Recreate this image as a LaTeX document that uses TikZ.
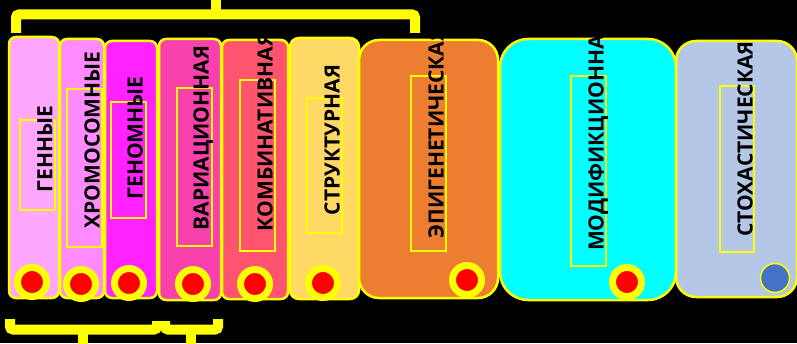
\documentclass[tikz,border=0pt]{standalone}
\usepackage{fontspec}
\setmainfont{Open Sans}
\definecolor{c1}{HTML}{FFA6FF}
\definecolor{c2}{HTML}{FF8BFF}
\definecolor{c3}{HTML}{FF21FF}
\definecolor{c4}{HTML}{F941AE}
\definecolor{c5}{HTML}{FF5470}
\definecolor{c6}{HTML}{FFD966}
\definecolor{c7}{HTML}{ED7D31}
\definecolor{c8}{HTML}{00FFFF}
\definecolor{c9}{HTML}{B4C7E7}
\definecolor{ylw}{HTML}{FFFF00}
\definecolor{rd}{HTML}{FF0000}
\definecolor{bl}{HTML}{4472C4}
\begin{document}
\begin{tikzpicture}[x=1pt,y=1pt,
  box/.style={draw=ylw, line width=2.5pt, anchor=south west, inner sep=0pt, outer sep=0pt},
  lbl/.style={rotate=90, font=\bfseries\fontsize{21}{21}\selectfont, text=black, inner sep=0pt, text depth=0pt},
  txtframe/.style={draw=ylw, line width=1.3pt, anchor=south west, inner sep=0pt, outer sep=0pt},
  dot/.style={circle, fill=rd, draw=ylw, line width=7pt, minimum size=29pt, inner sep=0pt},
  bluedot/.style={circle, fill=bl, draw=ylw, line width=1.5pt, minimum size=29pt, inner sep=0pt},
  brace/.style={draw=ylw, line width=10pt, rounded corners=3pt}
]
\fill[black] (0,0) rectangle (797,343);
\useasboundingbox (0,0) rectangle (797,343);
\clip (0,0) rectangle (797,343);
% boxes
\node[box, rounded corners=7pt, fill=c1, minimum width=50pt, minimum height=261pt] (b1) at (9,45) {};
\node[box, rounded corners=7pt, fill=c2, minimum width=44pt, minimum height=259pt] (b2) at (60,45) {};
\node[box, rounded corners=7pt, fill=c3, minimum width=52pt, minimum height=257pt] (b3) at (105,45) {};
\node[box, rounded corners=7pt, fill=c4, minimum width=62pt, minimum height=261pt] (b4) at (159,43) {};
\node[box, rounded corners=7pt, fill=c5, minimum width=66pt, minimum height=259pt] (b5) at (222,44) {};
\node[box, rounded corners=9pt, fill=c6, minimum width=69pt, minimum height=261pt] (b6) at (290,44) {};
\node[box, rounded corners=20pt, fill=c7, minimum width=139pt, minimum height=258pt] (b7) at (359,45) {};
\node[box, rounded corners=28pt, fill=c8, minimum width=176pt, minimum height=261pt] (b8) at (500,43) {};
\node[box, rounded corners=20pt, fill=c9, minimum width=121pt, minimum height=256pt] (b9) at (676,46) {};
% text frames
\node[txtframe, minimum width=35pt, minimum height=90pt] (f1) at (20,133) {};
\node[txtframe, minimum width=35pt, minimum height=158pt] (f2) at (67,96) {};
\node[txtframe, minimum width=35pt, minimum height=116pt] (f3) at (111,125) {};
\node[txtframe, minimum width=35pt, minimum height=158pt] (f4) at (177,97) {};
\node[txtframe, minimum width=35pt, minimum height=171pt] (f5) at (240,92) {};
\node[txtframe, minimum width=35pt, minimum height=135pt] (f6) at (307,110) {};
\node[txtframe, minimum width=35pt, minimum height=175pt] (f7) at (411,92) {};
\node[txtframe, minimum width=35pt, minimum height=190pt] (f8) at (571,77) {};
\node[txtframe, minimum width=34pt, minimum height=166pt] (f9) at (720,91) {};
% labels
\node[lbl] (t1) at (45,194) {ГЕННЫЕ};
\node[lbl] (t2) at (92,203) {ХРОМОСОМНЫЕ};
\node[lbl] (t3) at (135,205) {ГЕНОМНЫЕ};
\node[lbl] (t4) at (201,205) {ВАРИАЦИОННАЯ};
\node[lbl] (t5) at (265,211) {КОМБИНАТИВНАЯ};
\node[lbl] (t6) at (332,203) {СТРУКТУРНАЯ};
\node[lbl] (t7) at (436,210) {ЭПИГЕНЕТИЧЕСКАЯ};
\node[lbl] (t8) at (596,200) {МОДИФИКЦИОННА};
\node[lbl] (t9) at (745,204) {СТОХАСТИЧЕСКАЯ};
% dots
\node[dot] (d1) at (32,61) {};
\node[dot] (d2) at (81,59) {};
\node[dot] (d3) at (129,60) {};
\node[dot] (d4) at (193,59) {};
\node[dot] (d5) at (255,59) {};
\node[dot] (d6) at (323,60) {};
\node[dot] (d7) at (467,63) {};
\node[dot] (d8) at (627,61) {};
\node[bluedot] (d9) at (775,65) {};
% braces
\draw[brace] (16,310) -- (16,328.5) -- (415,328.5) -- (415,310);
\draw[brace] (216,328.5) -- (216,345);
\draw[brace] (10,24) -- (10,13.5) -- (157,13.5) -- (157,22);
\draw[brace] (83,13.5) -- (83,-2);
\draw[brace] (165,22) -- (165,13.5) -- (218,13.5) -- (218,24);
\draw[brace] (191,13.5) -- (191,-2);
\end{tikzpicture}
\end{document}
